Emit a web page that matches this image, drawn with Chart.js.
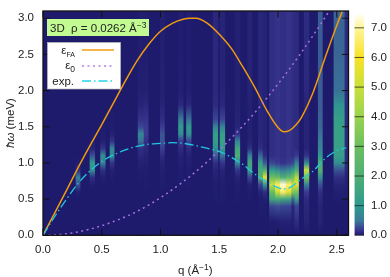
<!DOCTYPE html>
<html>
<head>
<meta charset="utf-8">
<title>Dispersion map</title>
<script src="https://cdn.jsdelivr.net/npm/chart.js@4/dist/chart.umd.min.js"></script>
<style>
  body { margin: 0; background: #fff; }
  #wrap { position: relative; width: 390px; height: 277px; overflow: hidden; }
  canvas { position: absolute; top: 0; }
  #mapChart { left: 0; }
  #barChart { left: 350px; }
</style>
</head>
<body>
<div id="wrap">
  <canvas id="mapChart" width="390" height="277"></canvas>
  <canvas id="barChart" width="40" height="277"></canvas>
</div>
<script>
const xTicks = [0, 0.5, 1, 1.5, 2, 2.5];
const yTicks = [0, 0.5, 1, 1.5, 2, 2.5, 3];
const colorTicks = [0, 1, 2, 3, 4, 5, 6, 7];

// colour scale of the map
const colorValues = [0, 0.2, 0.5, 1, 2, 3, 4, 5, 6, 7, 7.5];
const colorHexes = ["#1e1b6d", "#3b3a92", "#3a7c98", "#2e9a8e", "#4fae74", "#6cbf5f", "#9ad34e", "#c9df3c", "#f9e227", "#fff59a", "#ffffff"];

// curves
const faQ = [0, 0.1, 0.2, 0.3, 0.4, 0.5, 0.6, 0.7, 0.8, 0.9, 1, 1.1, 1.2, 1.25, 1.3, 1.4, 1.5, 1.6, 1.7, 1.8, 1.9, 2, 2.05, 2.1, 2.15, 2.2, 2.3, 2.4, 2.5, 2.56];
const faE = [0, 0.31, 0.62, 0.94, 1.24, 1.53, 1.83, 2.13, 2.41, 2.64, 2.82, 2.93, 2.99, 3, 3, 2.93, 2.78, 2.59, 2.33, 2.05, 1.74, 1.49, 1.43, 1.45, 1.52, 1.63, 1.98, 2.45, 2.9, 3.15];
const freeQ = [0, 0.2, 0.4, 0.6, 0.8, 1, 1.2, 1.4, 1.6, 1.8, 2, 2.2, 2.4, 2.45];
const freeE = [0, 0.02, 0.085, 0.19, 0.33, 0.52, 0.75, 1.02, 1.34, 1.69, 2.09, 2.53, 3.01, 3.14];
const expQ = [0, 0.1, 0.2, 0.3, 0.4, 0.5, 0.6, 0.7, 0.8, 0.9, 1, 1.1, 1.2, 1.3, 1.4, 1.5, 1.6, 1.7, 1.8, 1.9, 2, 2.05, 2.1, 2.2, 2.3, 2.4, 2.5, 2.58];
const expE = [0, 0.26, 0.5, 0.72, 0.89, 1.02, 1.11, 1.18, 1.23, 1.26, 1.27, 1.28, 1.27, 1.24, 1.2, 1.16, 1.08, 0.98, 0.85, 0.74, 0.66, 0.64, 0.66, 0.78, 0.89, 1.06, 1.17, 1.21];

// measured intensity: one row per q stripe, one value per energy level
const energyLevels = [0, 0.2, 0.4, 0.5, 0.6, 0.7, 0.8, 0.9, 1, 1.1, 1.2, 1.3, 1.4, 1.5, 1.6, 1.8, 2, 2.5, 3.1];
const stripeQ = [0.298, 0.42, 0.51, 0.588, 0.832, 0.875, 1.016, 1.173, 1.241, 1.468, 1.527, 1.655, 1.76, 1.85, 1.886, 1.95, 1.995, 2.04, 2.09, 2.125, 2.155, 2.243, 2.36, 2.52, 2.582];
const stripeSpan = [0.035, 0.04, 0.04, 0.035, 0.045, 0.04, 0.035, 0.04, 0.04, 0.04, 0.04, 0.04, 0.035, 0.035, 0.035, 0.045, 0.04, 0.05, 0.04, 0.025, 0.04, 0.04, 0.035, 0.088, 0.036];
const stripeIntensity = [
  [0, 0, 0, 0, 0.03, 0.3, 0.6, 0.12, 0.02, 0, 0, 0, 0, 0, 0, 0, 0, 0, 0],
  [0, 0, 0, 0, 0, 0.02, 0.12, 0.8, 1.1, 0.3, 0.05, 0.02, 0.01, 0, 0, 0, 0, 0, 0],
  [0, 0, 0, 0, 0, 0, 0.03, 0.12, 0.6, 0.8, 0.15, 0.04, 0.02, 0.01, 0, 0, 0, 0, 0],
  [0, 0, 0, 0, 0, 0, 0.01, 0.04, 0.15, 0.8, 0.7, 0.15, 0.04, 0.02, 0.01, 0, 0, 0, 0],
  [0, 0, 0, 0, 0, 0, 0.01, 0.02, 0.04, 0.08, 0.12, 0.45, 0.7, 0.25, 0.15, 0.06, 0.03, 0.02, 0.02],
  [0, 0, 0, 0, 0, 0.01, 0.01, 0.02, 0.03, 0.05, 0.08, 0.14, 0.2, 0.2, 0.16, 0.08, 0.03, 0.02, 0.02],
  [0, 0, 0, 0, 0, 0.01, 0.02, 0.03, 0.05, 0.1, 0.22, 0.32, 0.32, 0.2, 0.12, 0.06, 0.04, 0.03, 0.03],
  [0, 0, 0, 0, 0, 0.01, 0.01, 0.02, 0.03, 0.05, 0.1, 0.2, 0.8, 1.05, 0.5, 0.08, 0.03, 0.02, 0.02],
  [0, 0, 0, 0, 0, 0.01, 0.01, 0.02, 0.03, 0.05, 0.1, 0.25, 0.9, 1.05, 0.45, 0.08, 0.03, 0.02, 0.02],
  [0, 0, 0, 0.01, 0.01, 0.02, 0.03, 0.06, 0.12, 0.35, 0.85, 1.15, 1.2, 0.6, 0.25, 0.1, 0.08, 0.08, 0.08],
  [0, 0, 0, 0.01, 0.01, 0.02, 0.03, 0.06, 0.15, 0.45, 1.05, 1.35, 1.25, 0.65, 0.25, 0.08, 0.06, 0.06, 0.06],
  [0, 0, 0, 0.01, 0.01, 0.02, 0.05, 0.15, 0.7, 1.9, 1.6, 0.6, 0.15, 0.06, 0.05, 0.04, 0.04, 0.04, 0.04],
  [0, 0, 0, 0.01, 0.02, 0.04, 0.25, 1.4, 1.7, 0.6, 0.12, 0.05, 0.04, 0.04, 0.04, 0.04, 0.05, 0.06, 0.06],
  [0, 0, 0.01, 0.02, 0.05, 0.25, 2.2, 1.8, 1.2, 0.4, 0.12, 0.08, 0.07, 0.07, 0.07, 0.07, 0.07, 0.07, 0.07],
  [0, 0, 0.01, 0.03, 0.12, 1, 5.5, 2, 0.35, 0.1, 0.05, 0.05, 0.05, 0.05, 0.05, 0.05, 0.05, 0.05, 0.05],
  [0, 0.02, 0.25, 1.6, 2.8, 5, 3, 1.1, 0.25, 0.12, 0.12, 0.12, 0.12, 0.12, 0.12, 0.12, 0.12, 0.12, 0.12],
  [0, 0.03, 0.3, 1.8, 5, 6.5, 2.8, 0.8, 0.2, 0.15, 0.15, 0.15, 0.15, 0.15, 0.15, 0.15, 0.15, 0.15, 0.15],
  [0, 0.05, 0.25, 1.6, 6.5, 7.3, 2, 0.5, 0.15, 0.13, 0.13, 0.13, 0.13, 0.13, 0.13, 0.13, 0.13, 0.13, 0.13],
  [0, 0.05, 0.25, 1.5, 5.5, 6.6, 2.5, 0.7, 0.2, 0.15, 0.15, 0.15, 0.15, 0.15, 0.15, 0.15, 0.15, 0.15, 0.15],
  [0, 0.04, 0.08, 0.4, 3.5, 5, 3, 1.1, 0.25, 0.12, 0.12, 0.12, 0.12, 0.12, 0.12, 0.12, 0.12, 0.12, 0.12],
  [0, 0.12, 0.25, 1.4, 3.2, 5.5, 4.5, 2, 0.6, 0.2, 0.1, 0.1, 0.1, 0.1, 0.1, 0.1, 0.1, 0.1, 0.1],
  [0, 0.06, 0.08, 0.1, 0.2, 0.6, 3.2, 4.8, 0.7, 0.15, 0.06, 0.06, 0.06, 0.06, 0.06, 0.06, 0.08, 0.1, 0.1],
  [0, 0.05, 0.06, 0.08, 0.12, 0.3, 0.8, 2.2, 1.9, 1, 0.6, 0.5, 0.45, 0.4, 0.38, 0.35, 0.35, 0.35, 0.35],
  [0, 0, 0, 0.01, 0.03, 0.06, 0.12, 0.3, 0.8, 1.25, 1.3, 1.3, 1.3, 1.3, 1.25, 0.9, 0.45, 0.4, 0.38],
  [0, 0, 0, 0.01, 0.02, 0.04, 0.06, 0.08, 0.1, 0.1, 0.1, 0.1, 0.1, 0.1, 0.1, 0.1, 0.1, 0.1, 0.1]
];

const Q_MAX = 2.6;
const E_MAX = 3.1;
const COLOR_MAX = 7.5;
const AREA_W = 305.5;
const BACKDROP = colorHexes[0];
const FONT = '"Liberation Sans", Arial, sans-serif';
const TICK_FONT = { family: '"Liberation Sans", Arial, sans-serif', size: 11.5 };
const TEXT = "#222";

function hexToRgb(hex) {
    return [1, 3, 5].map(i => parseInt(hex.slice(i, i + 2), 16));
}

function colorFor(value) {
    let i = 0;
    while (i < colorValues.length - 2 && value > colorValues[i + 1]) i++;
    const t = Math.min(1, (value - colorValues[i]) / (colorValues[i + 1] - colorValues[i]));
    const a = hexToRgb(colorHexes[i]);
    const b = hexToRgb(colorHexes[i + 1]);
    const rgb = a.map((c, k) => Math.round(c + (b[k] - c) * t));
    return `rgb(${rgb.join(",")})`;
}

// vertical gradient for one bar, stops placed with the y scale
function columnGradient(chart, levels, values) {
    const area = chart.chartArea;
    if (!area) return BACKDROP;
    const yScale = chart.scales.y;
    const y0 = yScale.getPixelForValue(levels[0]);
    const y1 = yScale.getPixelForValue(levels[levels.length - 1]);
    const gradient = chart.ctx.createLinearGradient(0, y0, 0, y1);
    levels.forEach((level, i) => {
        gradient.addColorStop((yScale.getPixelForValue(level) - y0) / (y1 - y0), colorFor(values[i]));
    });
    return gradient;
}

function curve(label, qs, es, color, dash, width) {
    return {
        type: "line",
        label: label,
        data: qs.map((q, i) => ({ x: q, y: es[i] })),
        borderColor: color,
        borderWidth: width,
        borderDash: dash,
        pointRadius: 0,
        cubicInterpolationMode: "monotone",
        order: 1
    };
}

const stripeBars = stripeQ.map((q, i) => ({
    type: "bar",
    label: "S " + q,
    data: [{ x: q, y: [0, E_MAX] }],
    barThickness: stripeSpan[i] / Q_MAX * AREA_W,
    grouped: false,
    borderWidth: 0,
    borderSkipped: false,
    backgroundColor: ctx => columnGradient(ctx.chart, energyLevels, stripeIntensity[i]),
    order: 5
}));

// text with mixed fonts and raised/lowered parts
function drawParts(ctx, parts, x, y, alignRight) {
    let total = 0;
    parts.forEach(p => { ctx.font = p.font; total += ctx.measureText(p.text).width; });
    let cx = alignRight ? x - total : x;
    ctx.textAlign = "left";
    ctx.textBaseline = "alphabetic";
    parts.forEach(p => {
        ctx.font = p.font;
        ctx.fillText(p.text, cx, y + (p.dy || 0));
        cx += ctx.measureText(p.text).width;
    });
}

const normal = `11.5px ${FONT}`;
const small = `8.5px ${FONT}`;

const backdropPlugin = {
    id: "backdrop",
    beforeDatasetsDraw(chart) {
        const a = chart.chartArea;
        chart.ctx.fillStyle = BACKDROP;
        chart.ctx.fillRect(a.left, a.top, a.width, a.height);
    },
    // stripes are a little soft in the original
    beforeDatasetDraw(chart, args) {
        chart.ctx.filter = args.meta.type === "bar" ? "blur(0.6px)" : "none";
    },
    afterDatasetDraw(chart) {
        chart.ctx.filter = "none";
    }
};

const framePlugin = {
    id: "frame",
    afterDatasetsDraw(chart) {
        const { ctx, chartArea: a, scales } = chart;
        const len = 6.5;
        ctx.save();
        ctx.strokeStyle = "#111";
        ctx.lineWidth = 1;
        ctx.beginPath();
        xTicks.forEach(v => {
            const px = scales.x.getPixelForValue(v);
            ctx.moveTo(px, a.bottom); ctx.lineTo(px, a.bottom - len);
            ctx.moveTo(px, a.top); ctx.lineTo(px, a.top + len);
        });
        yTicks.forEach(v => {
            const py = scales.y.getPixelForValue(v);
            ctx.moveTo(a.left, py); ctx.lineTo(a.left + len, py);
            ctx.moveTo(a.right, py); ctx.lineTo(a.right - len, py);
        });
        ctx.stroke();
        ctx.lineWidth = 1.3;
        ctx.strokeRect(a.left, a.top, a.width, a.height);
        ctx.restore();
    }
};

const notesPlugin = {
    id: "notes",
    afterDraw(chart) {
        const ctx = chart.ctx;
        ctx.save();

        // density label
        ctx.fillStyle = "#c2fb92";
        ctx.fillRect(47, 19, 102, 17);
        ctx.fillStyle = TEXT;
        drawParts(ctx, [
            { text: "3D  ρ = 0.0262 Å", font: normal },
            { text: "−3", font: small, dy: -4 }
        ], 50, 32);

        // legend box
        ctx.fillStyle = "#fff";
        ctx.fillRect(47.5, 42.5, 73, 46.5);
        ctx.strokeStyle = "#bbb";
        ctx.lineWidth = 0.7;
        ctx.strokeRect(47.5, 42.5, 73, 46.5);
        ctx.fillStyle = TEXT;
        drawParts(ctx, [{ text: "ε", font: normal }, { text: "FA", font: `7px ${FONT}`, dy: 3 }], 75, 54, true);
        drawParts(ctx, [{ text: "ε", font: normal }, { text: "0", font: small, dy: 3 }], 75, 69, true);
        drawParts(ctx, [{ text: "exp.", font: normal }], 74, 85, true);

        [[50, "#f39c12", [], 1.5], [66, "#b57ee8", [2, 3.5], 1.5], [81, "#22d3e6", [9, 3, 1.5, 3], 1.5]].forEach(s => {
            ctx.beginPath();
            ctx.strokeStyle = s[1];
            ctx.setLineDash(s[2]);
            ctx.lineWidth = s[3];
            ctx.moveTo(82, s[0]);
            ctx.lineTo(114, s[0]);
            ctx.stroke();
        });
        ctx.setLineDash([]);

        // axis titles
        ctx.fillStyle = TEXT;
        drawParts(ctx, [
            { text: "q (Å", font: normal },
            { text: "−1", font: small, dy: -4 },
            { text: ")", font: normal }
        ], 178, 274);

        ctx.translate(14, 123);
        ctx.rotate(-Math.PI / 2);
        ctx.textAlign = "left";
        const title = [
            { text: "ħω", font: `italic 11.5px ${FONT}` },
            { text: " (meV)", font: normal }
        ];
        let w = 0;
        title.forEach(p => { ctx.font = p.font; w += ctx.measureText(p.text).width; });
        drawParts(ctx, title, -w / 2, 0);
        ctx.restore();
    }
};

new Chart(document.getElementById("mapChart"), {
    type: "bar",
    data: {
        datasets: [
            ...stripeBars,
            curve("exp.", expQ, expE, "#22c8dc", [9, 3, 1.5, 3], 1.3),
            curve("e0", freeQ, freeE, "#a56fe0", [2, 3.5], 1.5),
            curve("eFA", faQ, faE, "#f09a10", [], 1.5)
        ]
    },
    options: {
        responsive: false,
        animation: false,
        layout: { padding: { top: 11, right: 41.5, left: 0, bottom: 0 } },
        plugins: { legend: { display: false }, tooltip: { enabled: false } },
        scales: {
            x: {
                type: "linear",
                min: 0,
                max: Q_MAX,
                offset: false,
                afterBuildTicks: axis => { axis.ticks = xTicks.map(v => ({ value: v })); },
                afterFit: axis => {
                    axis.height = 41.7;
                    axis.paddingLeft = 0;
                    axis.paddingRight = 0;
                },
                grid: { display: false, drawTicks: false },
                border: { display: false },
                ticks: {
                    padding: 8, color: TEXT, font: TICK_FONT, maxRotation: 0, autoSkip: false,
                    callback: v => v.toFixed(1)
                }
            },
            y: {
                type: "linear",
                min: 0,
                max: E_MAX,
                afterBuildTicks: axis => { axis.ticks = yTicks.map(v => ({ value: v })); },
                afterFit: axis => {
                    axis.width = 43;
                    axis.paddingTop = 0;
                    axis.paddingBottom = 0;
                },
                grid: { display: false, drawTicks: false },
                border: { display: false },
                ticks: {
                    padding: 9, color: TEXT, font: TICK_FONT, autoSkip: false,
                    callback: v => v.toFixed(1)
                }
            }
        }
    },
    plugins: [backdropPlugin, framePlugin, notesPlugin]
});

// colour key, second small chart
const keyTicksPlugin = {
    id: "keyTicks",
    afterDatasetsDraw(chart) {
        const { ctx, chartArea: a, scales } = chart;
        ctx.save();
        ctx.strokeStyle = "rgba(30,30,30,0.75)";
        ctx.lineWidth = 1;
        ctx.beginPath();
        colorTicks.forEach(v => {
            const py = scales.y.getPixelForValue(v);
            ctx.moveTo(a.left, py);
            ctx.lineTo(a.right, py);
        });
        ctx.stroke();
        ctx.restore();
    }
};

new Chart(document.getElementById("barChart"), {
    type: "bar",
    data: {
        labels: ["I"],
        datasets: [{
            label: "intensity",
            data: [[0, COLOR_MAX]],
            borderWidth: 0,
            borderSkipped: false,
            barPercentage: 1,
            categoryPercentage: 1,
            backgroundColor: ctx => columnGradient(ctx.chart, colorValues, colorValues)
        }]
    },
    options: {
        responsive: false,
        animation: false,
        layout: { padding: { top: 13, right: 0, left: 4.5, bottom: 41.7 } },
        plugins: { legend: { display: false }, tooltip: { enabled: false } },
        scales: {
            x: { display: false },
            y: {
                position: "right",
                min: 0,
                max: COLOR_MAX,
                afterBuildTicks: axis => { axis.ticks = colorTicks.map(v => ({ value: v })); },
                afterFit: axis => {
                    axis.width = 26;
                    axis.paddingTop = 0;
                    axis.paddingBottom = 0;
                },
                grid: { display: false, drawTicks: false },
                border: { display: false },
                ticks: {
                    padding: 7, color: TEXT, font: TICK_FONT, autoSkip: false,
                    callback: v => v.toFixed(1)
                }
            }
        }
    },
    plugins: [keyTicksPlugin]
});
</script>
</body>
</html>
